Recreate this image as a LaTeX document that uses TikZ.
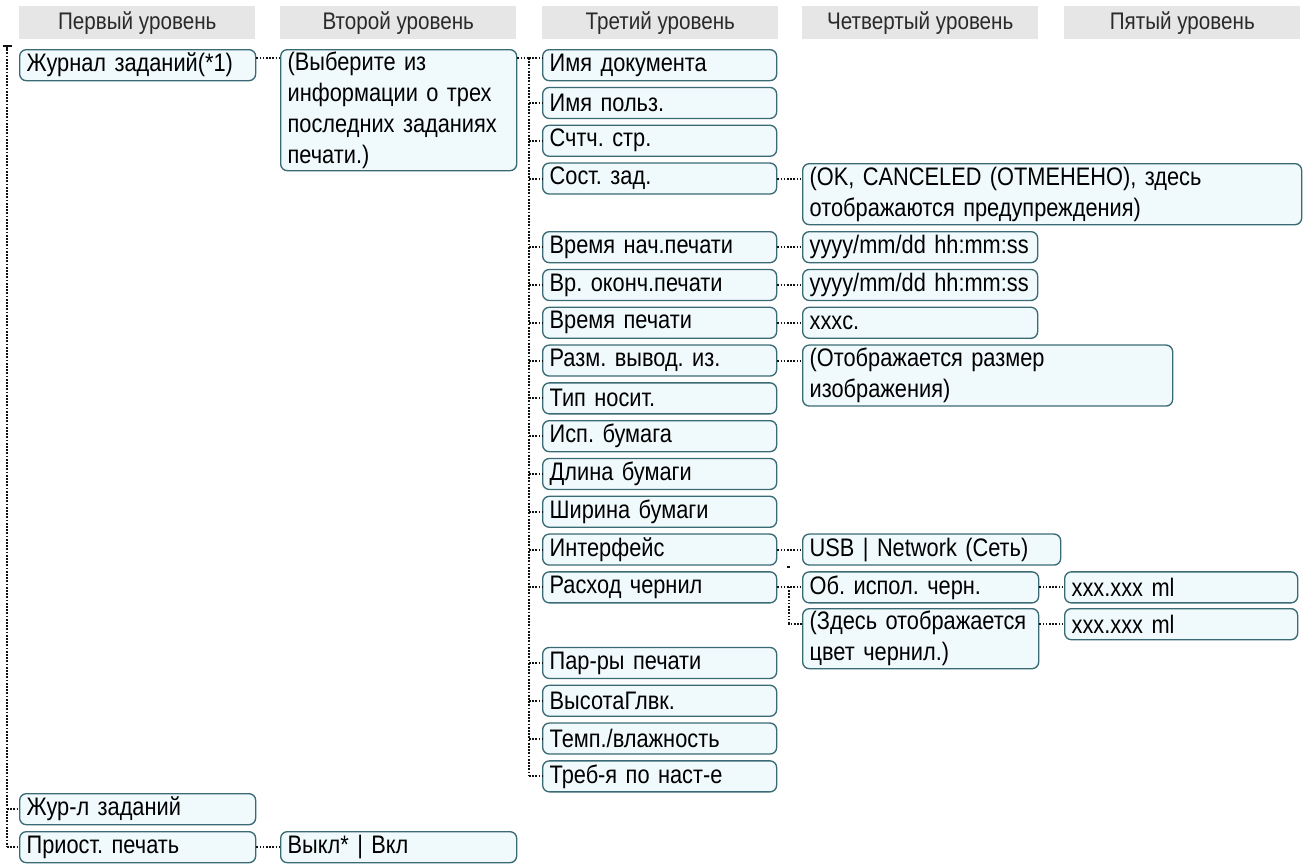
\documentclass[tikz,border=0pt]{standalone}
\usepackage{fontspec}
\setmainfont{Liberation Sans}[FakeStretch=0.86]
\usetikzlibrary{calc}
\definecolor{boxfill}{HTML}{F0FAFC}
\definecolor{boxline}{HTML}{3A6A74}
\definecolor{hdrgray}{HTML}{E6E6E6}
\definecolor{hdrtext}{HTML}{2A2A2A}
\definecolor{contxt}{HTML}{111111}
\frenchspacing
\begin{document}
\begin{tikzpicture}[x=0.75pt,y=-0.75pt,
  font=\fontsize{19pt}{23.25pt}\selectfont,
  bx/.style={draw=boxline, fill=boxfill, rounded corners=5pt, line width=1pt,
    anchor=north west, inner xsep=5.25pt, inner ysep=0pt, align=left, text=black},
  bw/.style={minimum width=#1*0.75pt, text width=(#1-14)*0.75pt},
  bh/.style={minimum height=#1*0.75pt},
  hdr/.style={fill=hdrgray, anchor=north west, minimum width=236*0.75pt,
    minimum height=33*0.75pt, inner sep=0pt, text=hdrtext,
    font=\fontsize{18pt}{21pt}\selectfont},
  con/.style={draw=contxt, dash pattern=on 1.3pt off 1.1pt, line width=1.5pt}]
\useasboundingbox (0,0) rectangle (1303,864);

% headers
\node[hdr] (h1) at (19,6) {Первый уровень};
\node[hdr] (h2) at (280,6) {Второй уровень};
\node[hdr] (h3) at (542,6) {Третий уровень};
\node[hdr] (h4) at (802,6) {Четвертый уровень};
\node[hdr] (h5) at (1064,6) {Пятый уровень};

% level 1
\node[bx,bw=236,bh=31] (l1a) at (19,49) {Журнал заданий(*1)};
\node[bx,bw=236,bh=31] (l1b) at (19,793) {Жур-л заданий};
\node[bx,bw=236,bh=31] (l1c) at (19,831) {Приост. печать};

% level 2
\node[bx,bw=236,bh=121] (vyb) at (280,49) {(Выберите из\\информации о трех\\последних заданиях\\печати.)};
\node[bx,bw=236,bh=31] (vk) at (280,831) {Выкл* | Вкл};

% level 3
\node[bx,bw=234,bh=31] (l3a) at (542,49) {Имя документа};
\node[bx,bw=234,bh=31] (l3b) at (542,86.8) {Имя польз.};
\node[bx,bw=234,bh=31] (l3c) at (542,124.6) {Счтч. стр.};
\node[bx,bw=234,bh=31] (l3d) at (542,162.4) {Сост. зад.};
\node[bx,bw=234,bh=31] (l3e) at (542,231) {Время нач.печати};
\node[bx,bw=234,bh=31] (l3f) at (542,268.8) {Вр. оконч.печати};
\node[bx,bw=234,bh=31] (l3g) at (542,306.6) {Время печати};
\node[bx,bw=234,bh=31] (l3h) at (542,344.4) {Разм. вывод. из.};
\node[bx,bw=234,bh=31] (l3i) at (542,382.2) {Тип носит.};
\node[bx,bw=234,bh=31] (l3j) at (542,420) {Исп. бумага};
\node[bx,bw=234,bh=31] (l3k) at (542,457.8) {Длина бумаги};
\node[bx,bw=234,bh=31] (l3l) at (542,495.6) {Ширина бумаги};
\node[bx,bw=234,bh=31] (l3m) at (542,533.4) {Интерфейс};
\node[bx,bw=234,bh=31] (l3n) at (542,571.2) {Расход чернил};
\node[bx,bw=234,bh=31] (l3o) at (542,646.8) {Пар-ры печати};
\node[bx,bw=234,bh=31] (l3p) at (542,684.6) {ВысотаГлвк.};
\node[bx,bw=234,bh=31] (l3q) at (542,722.4) {Темп./влажность};
\node[bx,bw=234,bh=31] (l3r) at (542,760.2) {Треб-я по наст-е};

% level 4
\node[bx,bw=499,bh=61] (ok) at (802,163) {(OK, CANCELED (ОТМЕНЕНО), здесь\\отображаются предупреждения)};
\node[bx,bw=235,bh=31] (y1) at (802,231) {yyyy/mm/dd hh:mm:ss};
\node[bx,bw=235,bh=31] (y2) at (802,268.8) {yyyy/mm/dd hh:mm:ss};
\node[bx,bw=235,bh=31] (xc) at (802,306.6) {xxxс.};
\node[bx,bw=370,bh=61] (rz) at (802,344.4) {(Отображается размер\\изображения)};
\node[bx,bw=258,bh=31] (usb) at (802,533.4) {USB | Network (Сеть)};
\node[bx,bw=236,bh=31] (ob) at (802,571.2) {Об. испол. черн.};
\node[bx,bw=236,bh=60] (zd) at (802,608) {(Здесь отображается\\цвет чернил.)};

% level 5
\node[bx,bw=233,bh=31] (x1) at (1064,571.2) {xxx.xxx ml};
\node[bx,bw=233,bh=31] (x2) at (1064,608) {xxx.xxx ml};

% left spine
\coordinate (s1) at (7,46);
\draw[contxt, line width=1.4pt] (2.5,46) -- (11.5,46);
\draw[contxt, line width=1.4pt] (s1) -- (7,51);
\draw[con] (s1) -- (s1 |- l1c.west);
\draw[con] ($(l1a.north west)+(0,9)$ -| s1) -- ($(l1a.north west)+(0,9)$);
\draw[con] (s1 |- l1b.west) -- (l1b.west);
\draw[con] (s1 |- l1c.west) -- (l1c.west);

% level 1 -> 2
\draw[con] ($(l1a.north east)+(0,9)$) -- ($(vyb.north west)+(0,9)$);
\draw[con] (l1c.east) -- (l1c.east -| vk.west);

% level 2 -> 3
\coordinate (s3) at (529,58);
\draw[con] ($(vyb.north east)+(0,9)$) -- (s3);
\draw[con] (s3) -- (s3 |- l3r.west);
\draw[con] (s3) -- ($(l3a.north west)+(0,9)$);
\foreach \n in {l3b,l3c,l3d,l3e,l3f,l3g,l3h,l3i,l3j,l3k,l3l,l3m,l3n,l3o,l3p,l3q,l3r}
  \draw[con] (s3 |- \n.west) -- (\n.west);

% level 3 -> 4
\draw[con] (l3d.east) -- (l3d.east -| ok.west);
\draw[con] (l3e.east) -- (l3e.east -| y1.west);
\draw[con] (l3f.east) -- (l3f.east -| y2.west);
\draw[con] (l3g.east) -- (l3g.east -| xc.west);
\draw[con] (l3h.east) -- (l3h.east -| rz.west);
\draw[con] (l3m.east) -- (l3m.east -| usb.west);
\draw[con] (l3n.east) -- (l3n.east -| ob.west);
\coordinate (s4) at (789,586.7);
\draw[con] (s4) |- ($(zd.north west)+(0,15.5)$);
\draw[contxt, line width=0.8pt] (787.3,567) -- (790.3,567);

% level 4 -> 5
\draw[con] (ob.east) -- (ob.east -| x1.west);
\draw[con] ($(zd.north east)+(0,15.5)$) -- ($(x2.north west)+(0,15.5)$);
\end{tikzpicture}
\end{document}
